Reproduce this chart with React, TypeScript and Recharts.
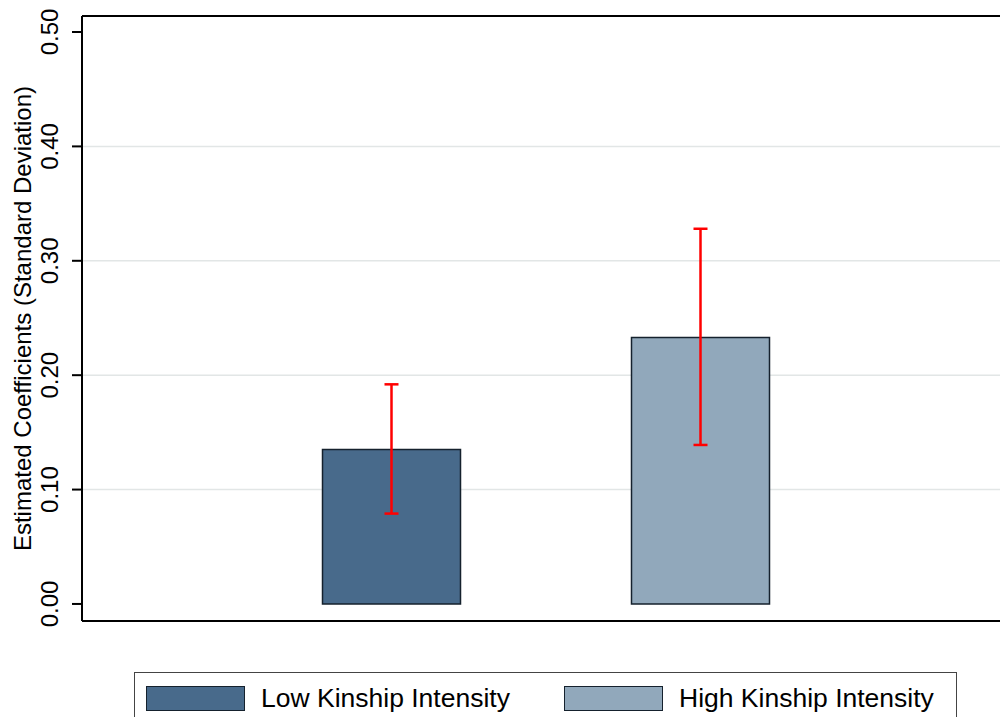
import React from 'react';
import { BarChart, Bar, XAxis, YAxis, CartesianGrid, ErrorBar, Cell, ReferenceLine } from 'recharts';

const categories = ['Low Kinship Intensity', 'High Kinship Intensity'];
const coefficients = [0.135, 0.233];
const ciLower = [0.079, 0.139];
const ciUpper = [0.192, 0.328];
const barColors = ['#486a8b', '#91a8bb'];
const yTicks = [0, 0.1, 0.2, 0.3, 0.4, 0.5];
const gridValues = [0.1, 0.2, 0.3, 0.4];
const yDomain: [number, number] = [-0.0149, 0.514];
const yTitle = 'Estimated Coefficients (Standard Deviation)';

const data = categories.map((name, i) => ({
  name,
  value: coefficients[i],
  err: [coefficients[i] - ciLower[i], ciUpper[i] - coefficients[i]],
}));

const FONT = '"Liberation Sans", Arial, Helvetica, sans-serif';

const YTick = (props: any) => {
  const { x, y, payload } = props;
  const tx = x - 14;
  return (
    <text
      x={tx}
      y={y}
      transform={`rotate(-90, ${tx}, ${y})`}
      textAnchor="middle"
      fontFamily={FONT}
      fontSize={24}
      fill="#000"
    >
      {Number(payload.value).toFixed(2)}
    </text>
  );
};

const YTitle = (props: any) => {
  const vb = props.viewBox || {};
  const tx = (vb.x ?? 0) + 31;
  const ty = (vb.y ?? 0) + (vb.height ?? 0) / 2;
  return (
    <text
      x={tx}
      y={ty}
      transform={`rotate(-90, ${tx}, ${ty})`}
      textAnchor="middle"
      fontFamily={FONT}
      fontSize={24}
      fill="#000"
    >
      {yTitle}
    </text>
  );
};

const legendLefts = [11, 429];

export default function App() {
  return (
    <div style={{ position: 'absolute', left: 0, top: 0, width: 1000, height: 717, overflow: 'hidden', background: '#fff' }}>
      <BarChart
        width={1009}
        height={717}
        data={data}
        margin={{ top: 16, right: 0, left: 0, bottom: 96 }}
      >
        <CartesianGrid
          vertical={false}
          horizontalValues={gridValues}
          stroke="#e2e6e6"
          strokeWidth={1.5}
        />
        <XAxis
          dataKey="name"
          type="category"
          height={0}
          tick={false}
          tickLine={false}
          axisLine={false}
          padding={{ left: 154.5, right: 154.5 }}
        />
        <YAxis
          type="number"
          domain={yDomain}
          ticks={yTicks}
          width={82}
          tickSize={10}
          tickMargin={0}
          tick={<YTick />}
          tickLine={{ stroke: '#000', strokeWidth: 2 }}
          axisLine={{ stroke: '#000', strokeWidth: 2 }}
          label={<YTitle />}
          interval={0}
        />
        <ReferenceLine y={yDomain[1]} stroke="#000" strokeWidth={2} ifOverflow="visible" />
        <ReferenceLine y={yDomain[0]} stroke="#000" strokeWidth={2} ifOverflow="visible" />
        <Bar dataKey="value" barSize={138} stroke="#15212d" strokeWidth={1.5} isAnimationActive={false}>
          {data.map((d, i) => (
            <Cell key={d.name} fill={barColors[i]} />
          ))}
          <ErrorBar dataKey="err" width={7} stroke="#ff0000" strokeWidth={2.5} direction="y" isAnimationActive={false} />
        </Bar>
      </BarChart>
      <div
        style={{
          position: 'absolute',
          left: 134,
          top: 672,
          width: 823,
          height: 80,
          border: '1.5px solid #444',
          boxSizing: 'border-box',
          background: '#fff',
        }}
      >
        {categories.map((c, i) => (
          <div
            key={c}
            style={{
              position: 'absolute',
              left: legendLefts[i],
              top: 10,
              display: 'flex',
              alignItems: 'center',
              whiteSpace: 'nowrap',
            }}
          >
            <div
              style={{
                width: 99,
                height: 25,
                background: barColors[i],
                border: '1.5px solid #15212d',
                boxSizing: 'border-box',
              }}
            />
            <span style={{ marginLeft: 16, fontFamily: FONT, fontSize: 26.5, color: '#000' }}>{c}</span>
          </div>
        ))}
      </div>
    </div>
  );
}
